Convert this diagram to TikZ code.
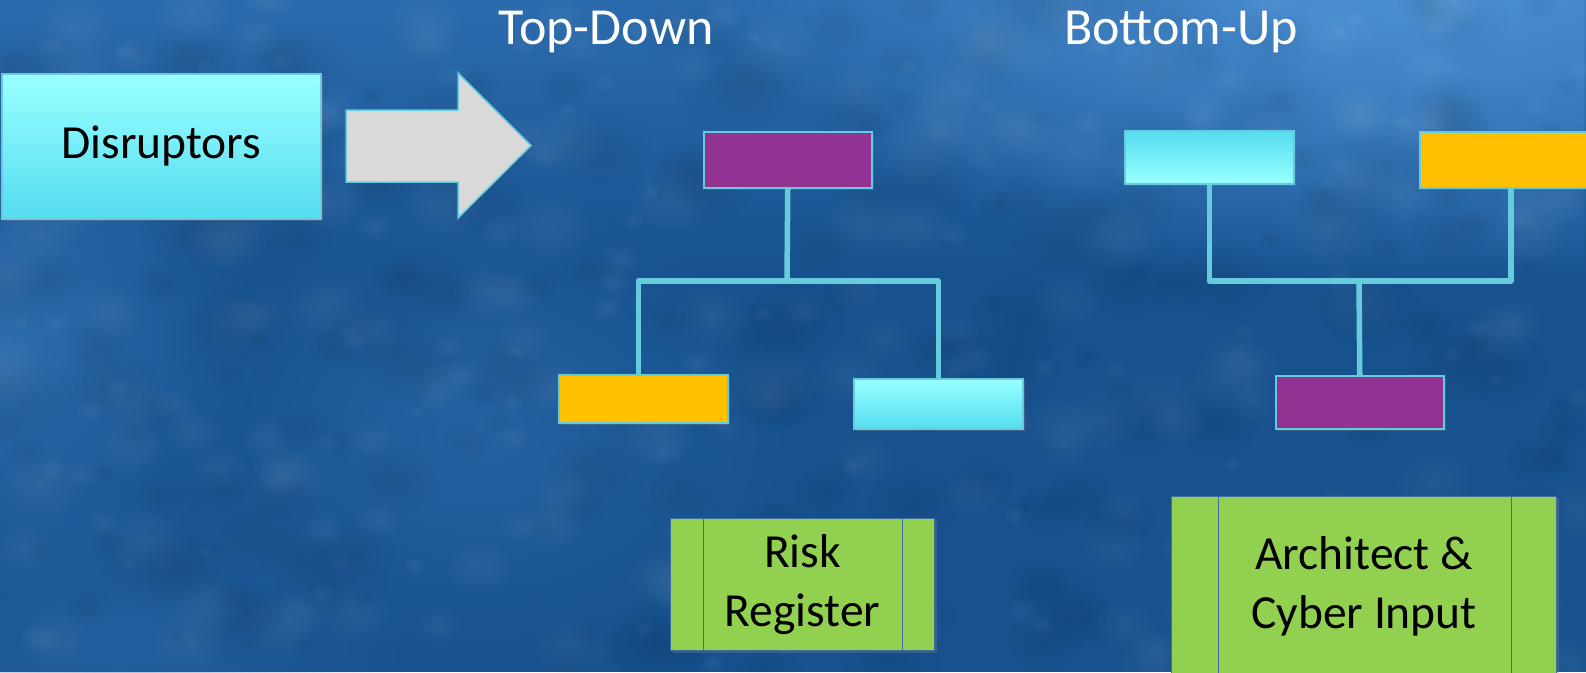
\documentclass[tikz,border=0pt]{standalone}
\usepackage{fontspec}
\setmainfont{Carlito}
\usetikzlibrary{fadings,shadows}
\definecolor{bgbase}{HTML}{17518E}
\definecolor{bgtop}{HTML}{2C6CAE}
\definecolor{bglight}{HTML}{4E94D8}
\definecolor{bgleft}{HTML}{2F6EAE}
\definecolor{linec}{HTML}{66CCDD}
\definecolor{cyantop}{HTML}{99FFFF}
\definecolor{cyanbot}{HTML}{55DDF0}
\definecolor{purp}{HTML}{923293}
\definecolor{orng}{HTML}{FFC000}
\definecolor{grn}{HTML}{92D050}
\definecolor{grnline}{HTML}{3F6FA0}
\definecolor{arrowgray}{HTML}{D9D9D9}
\tikzfading[name=mytopfade, top color=transparent!0, bottom color=transparent!100]
\tikzfading[name=myradial, inner color=transparent!0, outer color=transparent!100]
\begin{document}
\begin{tikzpicture}[x=1pt,y=-1pt,
  orgbox/.style={draw=linec, line width=1.5pt, inner sep=0pt, anchor=north west,
    drop shadow={opacity=0.35, shadow xshift=2pt, shadow yshift=-2pt}},
  cyanbox/.style={orgbox, top color=cyantop, bottom color=cyanbot},
  cyanboxrev/.style={orgbox, top color=cyanbot, bottom color=cyantop},
  purpbox/.style={orgbox, fill=purp},
  orngbox/.style={orgbox, fill=orng},
  procbox/.style={draw=grnline, line width=1pt, fill=grn, inner sep=0pt, anchor=north west,
    align=center, font=\fontsize{47.5}{59}\selectfont, text=black,
    drop shadow={opacity=0.35, shadow xshift=2pt, shadow yshift=-2pt}},
  conn/.style={draw=linec, line width=5.5pt, line join=round},
  title/.style={text=white, font=\fontsize{52}{60}\selectfont}]
\path[clip] (0,0) rectangle (1586,672);
% background
\fill[bgbase] (0,0) rectangle (1586,672);
\fill[bgtop, path fading=mytopfade] (0,0) rectangle (1586,280);
\fill[bglight, path fading=myradial] (1420,-40) ellipse [x radius=700, y radius=330];
\fill[bgleft, path fading=myradial] (0,340) ellipse [x radius=260, y radius=260];
\fill[bgleft, opacity=0.6, path fading=myradial] (480,430) ellipse [x radius=320, y radius=240];
\fill[bgleft, opacity=0.5, path fading=myradial] (120,640) ellipse [x radius=300, y radius=160];
% texture
\pgfmathsetseed{4242}
\foreach \i in {1,...,260}{
  \pgfmathsetmacro{\px}{rnd*1586}
  \pgfmathsetmacro{\py}{rnd*672}
  \pgfmathsetmacro{\pr}{8+rnd*40}
  \fill[white, opacity=0.05, path fading=myradial] (\px,\py) ellipse [x radius=\pr, y radius=\pr*0.8];
}
\foreach \i in {1,...,200}{
  \pgfmathsetmacro{\px}{rnd*1586}
  \pgfmathsetmacro{\py}{rnd*672}
  \pgfmathsetmacro{\pr}{10+rnd*50}
  \fill[black, opacity=0.06, path fading=myradial] (\px,\py) ellipse [x radius=\pr, y radius=\pr*0.8];
}
% titles
\node[title] (ttd) at (606,32) {Top-Down};
\node[title] (tbu) at (1181,32) {Bottom-Up};
% disruptors and arrow
\node[cyanbox, minimum width=319, minimum height=145, font=\fontsize{47.5}{56}\selectfont, text=black] (dis) at (1,73) {Disruptors};
\fill[arrowgray, draw=linec, line width=1.5pt] (346,110) -- (458,110) -- (458,73) -- (531,145.5) -- (458,218) -- (458,182) -- (346,182) -- cycle;
% top-down tree
\node[purpbox, minimum width=168, minimum height=56] (tdtop) at (703,131) {};
\node[orngbox, minimum width=169, minimum height=48] (tdleft) at (558,374) {};
\node[cyanbox, minimum width=169, minimum height=50] (tdright) at (853,378) {};
\coordinate (tdj) at (787,281);
\draw[conn] (tdtop.south) -- (tdj);
\draw[conn] ([xshift=-5pt]tdleft.north) |- (tdj) -| (tdright.north);
% bottom-up tree
\node[cyanboxrev, minimum width=169, minimum height=53] (bul) at (1124,130) {};
\node[orngbox, minimum width=182, minimum height=56] (bur) at (1419,131) {};
\node[purpbox, minimum width=168, minimum height=53] (bub) at (1275,375) {};
\coordinate (buj) at (1359,281);
\draw[conn] (bul.south) |- (buj) -| (bur.south);
\draw[conn] (buj) -- (bub.north);
% process boxes
\node[procbox, minimum width=264, minimum height=132] (risk) at (670,518) {Risk\\Register};
\draw[grnline, line width=1pt] ([xshift=33pt]risk.north west) -- ([xshift=33pt]risk.south west);
\draw[grnline, line width=1pt] ([xshift=-33pt]risk.north east) -- ([xshift=-33pt]risk.south east);
\node[procbox, minimum width=385, minimum height=180] (arch) at (1171,496) {Architect \&\\Cyber Input};
\draw[grnline, line width=1pt] ([xshift=47pt]arch.north west) -- ([xshift=47pt]arch.south west);
\draw[grnline, line width=1pt] ([xshift=-46pt]arch.north east) -- ([xshift=-46pt]arch.south east);
\end{tikzpicture}
\end{document}
